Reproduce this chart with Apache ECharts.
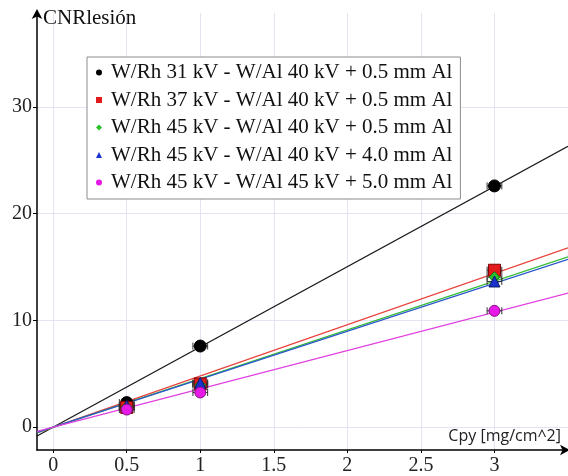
<!DOCTYPE html>
<html>
<head>
<meta charset="utf-8">
<script src="https://cdn.jsdelivr.net/npm/echarts/dist/echarts.min.js"></script>
<style>
  html, body { margin: 0; padding: 0; background: #fff; }
  #chart { width: 568px; height: 476px; }
</style>
</head>
<body>
<div id="chart"></div>
<script>
// Concentration values (mg/cm^2) at which CNR was measured
const cpy = [0.5, 1, 3];
// Horizontal uncertainty on each concentration
const cpyErr = [0.05, 0.05, 0.05];

const seriesNames = [
  'W/Rh 31 kV - W/Al 40 kV + 0.5 mm Al',
  'W/Rh 37 kV - W/Al 40 kV + 0.5 mm Al',
  'W/Rh 45 kV - W/Al 40 kV + 0.5 mm Al',
  'W/Rh 45 kV - W/Al 40 kV + 4.0 mm Al',
  'W/Rh 45 kV - W/Al 45 kV + 5.0 mm Al'
];

// Measured CNR of the lesion for each technique
const cnr31 = [2.3, 7.6, 22.6];
const cnr37 = [1.85, 4.05, 14.7];
const cnr45a = [1.9, 3.95, 14.05];
const cnr45b = [2.0, 4.15, 13.65];
const cnr45c = [1.65, 3.25, 10.9];

// Linear fits (slope, intercept) for each technique
const fitSlopes = [7.52, 4.8, 4.56, 4.49, 3.59];
const fitIntercepts = [0, 0, 0, 0, 0];

const xTicks = [0, 0.5, 1, 1.5, 2, 2.5, 3];
const yTicks = [0, 10, 20, 30];

const xMin = -0.11, xMax = 3.5;
const yMin = -2.14, yMax = 38.8;

const allCnr = [cnr31, cnr37, cnr45a, cnr45b, cnr45c];
const colors = ['#000000', '#e31a1c', '#2cc22c', '#1a33cc', '#e619e6'];
const borders = ['#000000', '#7a0000', '#157015', '#0a1a66', '#801080'];
const lineColors = ['#1a1a1a', '#e8413a', '#33bb33', '#2a55cc', '#e040e0'];
const symbols = ['circle', 'rect', 'diamond', 'triangle', 'circle'];
const symbolSizes = [12, 12, 11, 11, 11];

const serif = '"Liberation Serif", "Times New Roman", serif';

const series = [];

// Fitted lines across the full x range
allCnr.forEach((vals, i) => {
  series.push({
    type: 'line',
    name: 'fit ' + i,
    data: [
      [xMin, fitSlopes[i] * xMin + fitIntercepts[i]],
      [xMax, fitSlopes[i] * xMax + fitIntercepts[i]]
    ],
    showSymbol: false,
    symbol: 'none',
    silent: true,
    lineStyle: { color: lineColors[i], width: 1.3 },
    z: 2
  });
});

// Horizontal error bars with caps
allCnr.forEach((vals, i) => {
  series.push({
    type: 'custom',
    name: 'err ' + i,
    silent: true,
    z: 3,
    data: cpy.map((x, k) => [x, vals[k], cpyErr[k]]),
    renderItem: function (params, api) {
      const x = api.value(0), y = api.value(1), e = api.value(2);
      const p0 = api.coord([x - e, y]);
      const p1 = api.coord([x + e, y]);
      const cap = 3.5;
      const st = { stroke: '#333', lineWidth: 1 };
      return {
        type: 'group',
        children: [
          { type: 'line', shape: { x1: p0[0], y1: p0[1], x2: p1[0], y2: p1[1] }, style: st },
          { type: 'line', shape: { x1: p0[0], y1: p0[1] - cap, x2: p0[0], y2: p0[1] + cap }, style: st },
          { type: 'line', shape: { x1: p1[0], y1: p1[1] - cap, x2: p1[0], y2: p1[1] + cap }, style: st }
        ]
      };
    }
  });
});

// Measured points
allCnr.forEach((vals, i) => {
  series.push({
    type: 'scatter',
    name: seriesNames[i],
    data: cpy.map((x, k) => [x, vals[k]]),
    symbol: symbols[i],
    symbolSize: symbolSizes[i],
    itemStyle: { color: colors[i], borderColor: borders[i], borderWidth: 1, opacity: 1 },
    z: 4
  });
});

const chart = echarts.init(document.getElementById('chart'), null, { renderer: 'canvas' });

chart.setOption({
  backgroundColor: '#ffffff',
  animation: false,
  grid: { left: 37, right: 0, top: 13, bottom: 25, containLabel: false },
  legend: {
    data: seriesNames.map((n, i) => ({
      name: n,
      icon: symbols[i],
      itemStyle: { color: colors[i], borderWidth: 0 }
    })),
    orient: 'vertical',
    left: 87,
    top: 57,
    itemWidth: 6,
    itemHeight: 6,
    itemGap: 6.5,
    padding: [5, 8, 6, 9],
    backgroundColor: '#ffffff',
    borderColor: '#8c8c8c',
    borderWidth: 1,
    itemStyle: { borderWidth: 0 },
    textStyle: {
      fontFamily: serif,
      fontSize: 21,
      color: '#111',
      lineHeight: 21,
      padding: [0, 0, 0, 4]
    }
  },
  xAxis: {
    type: 'value',
    min: xMin,
    max: xMax,
    name: 'Cpy [mg/cm^2]',
    nameLocation: 'end',
    nameGap: -7,
    nameTextStyle: {
      fontFamily: '"Open Sans", "Liberation Sans", sans-serif',
      fontSize: 16,
      color: '#222',
      align: 'right',
      verticalAlign: 'bottom',
      padding: [0, 0, 6, 0]
    },
    axisLine: {
      onZero: false,
      lineStyle: { color: '#000', width: 1.5 },
      symbol: ['none', 'arrow'],
      symbolSize: [8, 10],
      symbolOffset: [0, 2]
    },
    axisTick: { show: true, inside: false, length: 3, customValues: xTicks, lineStyle: { color: '#000' } },
    axisLabel: {
      customValues: xTicks,
      margin: 6,
      fontFamily: serif,
      fontSize: 20,
      color: '#222'
    },
    splitLine: { show: true, lineStyle: { color: '#e3e3f3', width: 1 } }
  },
  yAxis: {
    type: 'value',
    min: yMin,
    max: yMax,
    name: 'CNRlesión',
    nameLocation: 'end',
    nameGap: -5,
    nameTextStyle: {
      fontFamily: serif,
      fontSize: 21,
      color: '#111',
      align: 'left',
      verticalAlign: 'middle',
      padding: [0, 0, 0, 6]
    },
    axisLine: {
      onZero: false,
      lineStyle: { color: '#000', width: 1.5 },
      symbol: ['none', 'arrow'],
      symbolSize: [8, 10],
      symbolOffset: [0, 4]
    },
    axisTick: { show: true, inside: false, length: 4, customValues: yTicks, lineStyle: { color: '#000' } },
    axisLabel: {
      customValues: yTicks,
      margin: 5,
      fontFamily: serif,
      fontSize: 20,
      color: '#222'
    },
    splitLine: { show: true, lineStyle: { color: '#e3e3f3', width: 1 } }
  },
  series: series
});
</script>
</body>
</html>
